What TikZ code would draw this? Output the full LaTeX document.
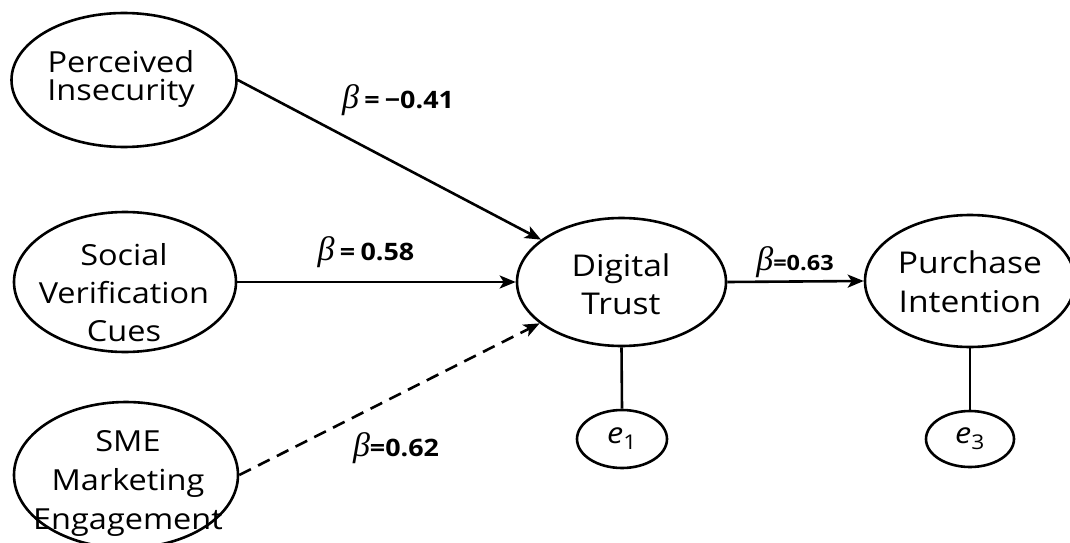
\documentclass[tikz,border=0pt]{standalone}
\usepackage{fontspec}
\setmainfont{Open Sans}[FakeStretch=1.12]
\newfontfamily\betafont{Liberation Serif}
\usetikzlibrary{shapes.geometric,arrows.meta}
\tikzset{
  latent/.style={ellipse, draw, line width=2.6pt, inner sep=0pt},
  caption/.style={align=center, anchor=base, inner sep=0pt},
  errterm/.style={ellipse, draw, line width=2.6pt, inner sep=0pt,
    font=\fontsize{29}{35}\selectfont},
  effect/.style={line width=2.6pt, -{Stealth[length=16pt,width=13pt,inset=4pt]}},
  link/.style={line width=2.6pt},
  coef/.style={anchor=base, inner sep=0pt, font=\fontsize{24}{30}\selectfont\bfseries},
}
\newcommand{\bsym}{{\betafont\mdseries\itshape\fontsize{34}{34}\selectfont β}}
\newcommand{\eqgap}{\hspace{0.22em}}
\begin{document}
\begin{tikzpicture}[x=1pt,y=-1pt]
\fill[white] (0,0) rectangle (1070,543);
\useasboundingbox (0,0) rectangle (1070,543);

% latent constructs
\node[latent, minimum width=225pt, minimum height=134pt] (pi) at (124,80) {};
\node[latent, minimum width=222pt, minimum height=140pt] (svc) at (125,282) {};
\node[latent, minimum width=224pt, minimum height=146pt] (sme) at (126,475) {};
\node[latent, minimum width=209pt, minimum height=128pt] (dt) at (621.5,282) {};
\node[latent, minimum width=210pt, minimum height=132pt] (pu) at (970,281) {};

% construct names (anchored at the baseline of the last line)
\node[caption, font=\fontsize{29}{28}\selectfont] (pi-t) at (121,100) {Perceived\\Insecurity};
\node[caption, font=\fontsize{29}{38}\selectfont] (svc-t) at (124,341) {Social\\Verification\\Cues};
\node[caption, font=\fontsize{29}{39}\selectfont] (sme-t) at (128,529) {SME\\Marketing\\Engagement};
\node[caption, font=\fontsize{30}{38}\selectfont] (dt-t) at (621,314) {Digital\\Trust};
\node[caption, font=\fontsize{30}{39}\selectfont] (pu-t) at (970,312) {Purchase\\Intention};

% error terms
\node[errterm, minimum width=90pt, minimum height=58pt] (e1) at (622,439) {\textit{e}\textsubscript{1}};
\node[errterm, minimum width=88pt, minimum height=56pt] (e3) at (970,439) {\textit{e}\textsubscript{3}};

% structural paths
\draw[effect] (pi.east) -- (dt);
\draw[effect] (svc.east) -- (dt.west);
\draw[effect, dash pattern=on 13pt off 8pt] (sme.east) -- (dt);
\draw[effect] (dt.east) -- (pu.west);
\draw[link] (dt.south) -- (e1.north);
\draw[link] (pu.south) -- (e3.north);

% path coefficients
\node[coef] (c1) at (398,108) {\bsym\eqgap=\eqgap−0.41};
\node[coef] (c2) at (366,260) {\bsym\eqgap=\eqgap0.58};
\node[coef] (c3) at (396,456) {\bsym=0.62};
\node[coef, font=\fontsize{21}{26}\selectfont\bfseries] (c4) at (795,270) {\bsym=0.63};
\end{tikzpicture}
\end{document}
